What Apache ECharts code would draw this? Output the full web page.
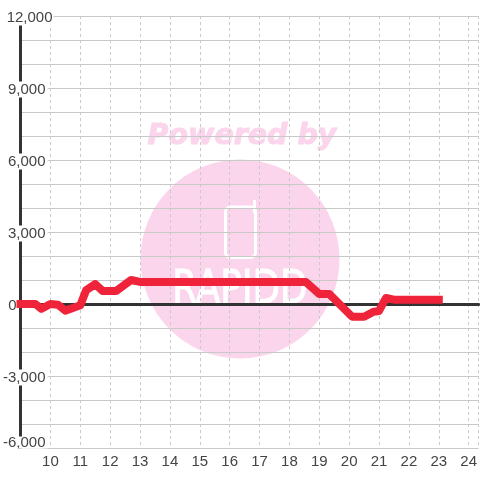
<!DOCTYPE html>
<html><head><meta charset="utf-8">
<style>html,body{margin:0;padding:0;background:#fff}#c{width:480px;height:480px}</style>
<script src="https://cdn.jsdelivr.net/npm/echarts@6/dist/echarts.min.js"></script>
</head><body><div id="c"></div>
<script>
const hours = [9, 9.5, 9.7, 10, 10.25, 10.5, 11, 11.2, 11.5, 11.75, 12.2, 12.7, 13, 18.55, 19, 19.33, 20.1, 20.5, 20.8, 21, 21.23, 21.5, 23];
const values = [0, 0, -200, 0, -30, -280, -50, 580, 830, 540, 540, 1000, 920, 920, 420, 420, -530, -530, -330, -290, 250, 180, 180];
const yTicks = [-6000, -3000, 0, 3000, 6000, 9000, 12000];
const xTicks = [10, 11, 12, 13, 14, 15, 16, 17, 18, 19, 20, 21, 22, 23, 24];
const watermarkTitle = 'Powered by';
const watermarkBrand = 'RAPIDD';

const pink = '#fbd5ec', ink = '#444444', axisDark = '#333333', gridCol = '#c9c9c9';
const fmt = v => Math.abs(v) >= 1000 ? (v < 0 ? '-' : '') + Math.abs(v).toLocaleString('en-US') : String(v);
const chart = echarts.init(document.getElementById('c'), null, {renderer: 'canvas'});
const box = {fontSize: 15, fontFamily: 'Liberation Sans', color: ink, backgroundColor: '#fff', lineHeight: 16, height: 16, padding: [0, 2, 0, 0]};
chart.setOption({
  animation: false,
  backgroundColor: '#fff',
  grid: {left: 20, right: 0, top: 16, bottom: 32, containLabel: false},
  xAxis: [{
    type: 'value', min: 9, max: 24.3333, interval: 1, position: 'bottom', z: 1,
    axisLine: {show: false, onZero: false}, axisTick: {show: false},
    axisLabel: {margin: 6, showMinLabel: true, showMaxLabel: true, hideOverlap: false, fontSize: 15, fontFamily: 'Liberation Sans', color: ink,
      customValues: xTicks},
    splitLine: {show: true, lineStyle: {type: [3, 3], color: gridCol, width: 1}}
  }, {
    type: 'value', min: 9, max: 24.3333, interval: 1, z: 4,
    axisLine: {show: true, onZero: true, lineStyle: {color: axisDark, width: 3}},
    axisTick: {show: false}, axisLabel: {show: false}, splitLine: {show: false}
  }],
  yAxis: [{
    type: 'value', min: -6000, max: 12000, interval: 1000, z: 2, position: 'left',
    axisLine: {show: false, onZero: false}, axisTick: {show: false}, axisLabel: {show: false},
    splitLine: {show: true, lineStyle: {color: gridCol, width: 1}}
  }, {
    type: 'value', min: -6000, max: 12000, interval: 1000, z: 3, position: 'left',
    axisLine: {show: true, onZero: false, lineStyle: {color: axisDark, width: 3}},
    axisTick: {show: false}, splitLine: {show: false},
    axisLabel: {
      margin: -33, showMinLabel: true, showMaxLabel: true, hideOverlap: false,
      padding: [3, 0, 0, 0],
      formatter: v => {
        if (!yTicks.includes(v)) return '';
        if (v === 12000) return '{top|' + fmt(v) + '}';
        if (v === 0) return '{plain|' + fmt(v) + '}{gapZero| }';
        if (v === -6000) return '{low|' + fmt(v) + '}{gap| }\n{under| }{gapUnder| }';
        return '{mid|' + fmt(v) + '}{gap| }';
      },
      rich: {
        top: {...box, padding: [0, 1, 0, 0]},
        mid: box,
        low: {...box, lineHeight: 12, height: 12},
        plain: {fontSize: 15, fontFamily: 'Liberation Sans', color: ink, lineHeight: 16},
        gap: {width: 6, fontSize: 1},
        gapZero: {width: 37, fontSize: 1},
        under: {width: 36, height: 14, lineHeight: 14, fontSize: 1, backgroundColor: '#fff'},
        gapUnder: {width: 11, fontSize: 1}
      }
    }
  }],
  graphic: [
    {type: 'circle', z: -5, silent: true, shape: {cx: 240, cy: 259, r: 99.5}, style: {fill: pink}},
    {type: 'text', z: -5, silent: true, style: {x: 242, y: 137, text: watermarkTitle, align: 'center', verticalAlign: 'middle', fill: pink, stroke: pink, lineWidth: 1, font: 'italic bold 28.5px "DejaVu Sans"'}},
    {type: 'rect', z: -4, silent: true, shape: {x: 225.5, y: 207, width: 30, height: 50.5, r: 5}, style: {fill: 'none', stroke: '#fff', lineWidth: 3}},
    {type: 'line', z: -4, silent: true, shape: {x1: 254.5, y1: 201, x2: 254.5, y2: 212}, style: {stroke: '#fff', lineWidth: 3, lineCap: 'round'}},
    {type: 'text', z: -4, silent: true, x: 240, y: 291, scaleX: 0.78, style: {x: 0, y: 0, text: watermarkBrand, align: 'center', verticalAlign: 'middle', fill: '#fff', stroke: '#fff', lineWidth: 1, font: '46px "DejaVu Sans"'}}
  ],
  series: [{
    type: 'line', xAxisIndex: 0, yAxisIndex: 0,
    data: hours.map((h, i) => [h, values[i]]),
    showSymbol: false, clip: false, z: 5,
    lineStyle: {color: '#ef2339', width: 8, cap: 'square', join: 'round'}
  }]
});
</script></body></html>
